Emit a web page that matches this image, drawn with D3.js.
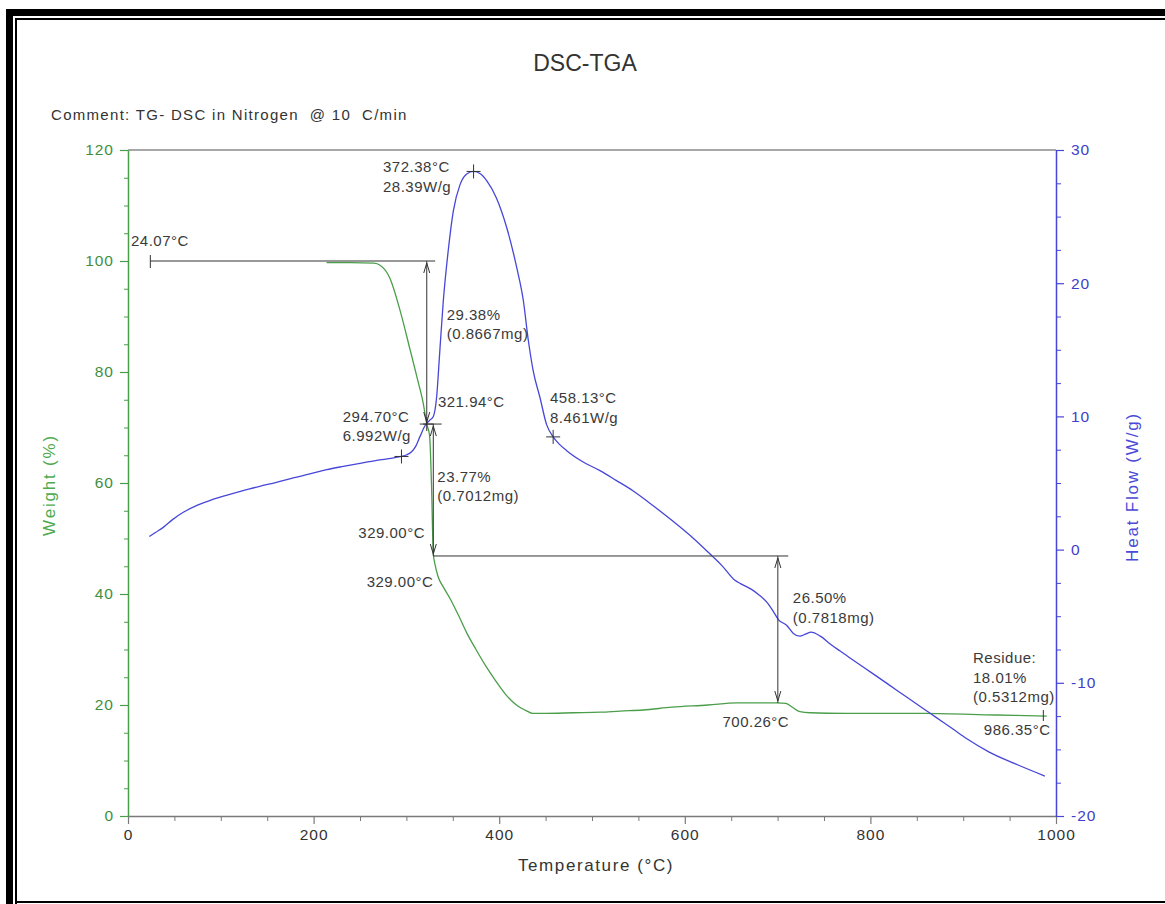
<!DOCTYPE html>
<html><head><meta charset="utf-8">
<script src="https://cdn.jsdelivr.net/npm/d3@7"></script>
<style>
html,body{margin:0;padding:0;background:#fff;}
svg{display:block;}
text{font-family:"Liberation Sans",Arial,sans-serif;}
</style></head><body>
<svg id="c" width="1165" height="904"></svg>
<script>
// ---------- DATA ----------
const tgaTemp   = [214,240,265,272,282,293,304,313,318,321.94,325,327,329,331,334,340,347,356,365,375,386,396,406,415,423,430,436,450,480,509,530,555,586,625,656,680,700,709,716,724,735,773,858,935,990];
const tgaWeight = [99.7,99.7,99.6,99.2,97.0,91.2,84.0,78.0,74.5,70.62,68.5,60.0,47.3,45.2,43.2,41.2,39.2,36.2,33.0,30.0,26.9,24.4,22.1,20.5,19.5,18.9,18.5,18.5,18.6,18.7,18.9,19.1,19.6,20.0,20.4,20.4,20.4,20.3,19.6,18.8,18.6,18.5,18.5,18.2,18.0];

const dscTemp = [23,30,38,48,59.6,72,88,105,124,142,160,178,196,214,232,250,268,285,294.7,300,305.6,310,314.7,320,325,329,332.5,336,339.8,345,350.5,357.8,365,372.38,380,386.5,397,408,418.8,426,431.4,436.7,444,451,458.13,465,472.7,490,508.6,526,544.5,562,586,610,629,640,654,660,671,680,689,695,700.8,710,717,724,730,736,746,757,767,780,803,819,839,858,870,889,904,928,955,988];
const dscFlow = [0.98,1.3,1.67,2.25,2.8,3.25,3.68,4.05,4.43,4.75,5.05,5.38,5.68,6.0,6.25,6.48,6.7,6.87,6.99,7.1,7.35,7.75,8.5,9.3,9.7,10.0,11.4,14.9,18.7,22.4,25.4,27.4,28.2,28.39,28.2,27.7,26.4,24.2,21.2,18.7,15.7,13.4,11.4,9.4,8.461,7.9,7.43,6.6,5.93,5.2,4.4,3.5,2.2,0.8,-0.45,-1.2,-2.3,-2.55,-2.95,-3.4,-4.0,-4.6,-5.25,-5.7,-6.3,-6.5,-6.35,-6.2,-6.5,-7.1,-7.6,-8.23,-9.33,-10.1,-11.07,-11.98,-12.56,-13.47,-14.2,-15.2,-16.05,-17.0];

const tempTicks   = [0,200,400,600,800,1000];
const tempMinor   = [50,100,150,250,300,350,450,500,550,650,700,750,850,900,950];
const weightTicks = [0,20,40,60,80,100,120];
const weightMinor = [5,10,15,25,30,35,45,50,55,65,70,75,85,90,95,105,110,115];
const flowTicks   = [-20,-10,0,10,20,30];
const flowMinor   = [-17.5,-15,-12.5,-7.5,-5,-2.5,2.5,5,7.5,12.5,15,17.5,22.5,25,27.5];

// DSC peak / onset markers (on heat-flow axis)
const dscMarkTemp = [372.38, 294.70, 458.13];
const dscMarkFlow = [28.39, 6.992, 8.461];
// TGA marker
const tgaMarkTemp = [321.94];
const tgaMarkWeight = [70.62];

// weight-loss steps
const stepTemp   = [321.94, 329.00, 700.26];
const stepTop    = [100, 70.62, 46.85];
const stepBottom = [70.62, 46.85, 20.35];
// reference levels for the steps
const refWeight = [100, 70.62, 46.85];
const refStart  = [24.07, 318, 329];
const refEnd    = [331, 338, 711.5];
const startTemp = 24.07;
const residueTemp = 986.35;
const residueWeight = 18.01;

// annotation texts, anchored in data units (temperature, weight %)
const labelLines = [
  ["372.38°C","28.39W/g"],
  ["24.07°C"],
  ["29.38%","(0.8667mg)"],
  ["321.94°C"],
  ["294.70°C","6.992W/g"],
  ["458.13°C","8.461W/g"],
  ["23.77%","(0.7012mg)"],
  ["329.00°C"],
  ["329.00°C"],
  ["26.50%","(0.7818mg)"],
  ["700.26°C"],
  ["Residue:","18.01%","(0.5312mg)"],
  ["986.35°C"]
];
const labelTemp   = [274.8, 3.2, 343.4, 334.0, 231.4, 454.7, 333.3, 248.2, 257.2, 716.4, 640.6, 910.6, 922.2];
const labelWeight = [116.0, 102.7, 89.4, 73.7, 71.0, 74.4, 60.2, 50.1, 41.3, 38.3, 16.1, 27.5, 14.6];

const titleText = "DSC-TGA";
const commentText = "Comment: TG- DSC in Nitrogen  @ 10  C/min";
const xTitle = "Temperature (°C)";
const yLTitle = "Weight (%)";
const yRTitle = "Heat Flow (W/g)";

// ---------- DRAW ----------
const svg = d3.select("#c");
const L = 128, R = 1056, T = 150, B = 816;
const x  = d3.scaleLinear().domain([0,1000]).range([L,R]);
const yL = d3.scaleLinear().domain([0,120]).range([B,T]);
const yR = d3.scaleLinear().domain([-20,30]).range([B,T]);

const green = "#4a9e4a", greenTxt = "#3f8f3f", blue = "#4646d8", blueTxt = "#4040c8", ink = "#3a3a3a";
const plain = d => String(d);

// frame
svg.append("rect").attr("x",6).attr("y",9).attr("width",1165).attr("height",7).attr("fill","#000");
svg.append("rect").attr("x",6).attr("y",9).attr("width",7).attr("height",900).attr("fill","#000");
svg.append("rect").attr("x",15).attr("y",18).attr("width",1165).attr("height",2).attr("fill","#000");
svg.append("rect").attr("x",15).attr("y",18).attr("width",2).attr("height",890).attr("fill","#000");
svg.append("rect").attr("x",15).attr("y",901).attr("width",1165).attr("height",2).attr("fill","#000");

// title & comment
svg.append("text").attr("x",585).attr("y",71).attr("text-anchor","middle")
  .attr("font-size",23).attr("fill","#333").text(titleText);
svg.append("text").attr("x",51).attr("y",120).attr("font-size",15)
  .attr("letter-spacing",1.3).attr("fill","#333").style("white-space","pre").text(commentText);

// top border
svg.append("line").attr("x1",x(0)).attr("x2",x(1000)).attr("y1",yL(120)).attr("y2",yL(120))
  .attr("stroke","#8a8a8a").attr("stroke-width",1.5);

function styleAxis(g, col, txtCol){
  g.select(".domain").attr("stroke",col).attr("stroke-width",1.5);
  g.selectAll(".tick line").attr("stroke",col).attr("stroke-width",1.2);
  g.selectAll(".tick text").attr("fill",txtCol).attr("font-size",15.5).attr("letter-spacing",1)
    .attr("font-family","Liberation Sans, Arial, sans-serif");
}
// bottom axis
const gx = svg.append("g").attr("transform",`translate(0,${B})`)
  .call(d3.axisBottom(x).tickValues(tempTicks).tickSize(8).tickSizeOuter(0).tickPadding(5).tickFormat(plain));
styleAxis(gx,"#7a7a7a","#333");
const gxm = svg.append("g").attr("transform",`translate(0,${B})`)
  .call(d3.axisBottom(x).tickValues(tempMinor).tickSize(5).tickFormat(""));
gxm.select(".domain").remove(); gxm.selectAll(".tick line").attr("stroke","#7a7a7a");

// left axis
const gl = svg.append("g").attr("transform",`translate(${L},0)`)
  .call(d3.axisLeft(yL).tickValues(weightTicks).tickSize(8).tickSizeOuter(0).tickPadding(6).tickFormat(plain));
styleAxis(gl,green,greenTxt);
const glm = svg.append("g").attr("transform",`translate(${L},0)`)
  .call(d3.axisLeft(yL).tickValues(weightMinor).tickSize(4).tickFormat(""));
glm.select(".domain").remove(); glm.selectAll(".tick line").attr("stroke",green);

// right axis
const gr = svg.append("g").attr("transform",`translate(${R},0)`)
  .call(d3.axisRight(yR).tickValues(flowTicks).tickSize(8).tickSizeOuter(0).tickPadding(7).tickFormat(plain));
styleAxis(gr,blue,blueTxt);
const grm = svg.append("g").attr("transform",`translate(${R},0)`)
  .call(d3.axisRight(yR).tickValues(flowMinor).tickSize(5).tickFormat(""));
grm.select(".domain").remove(); grm.selectAll(".tick line").attr("stroke",blue);

// axis titles
svg.append("text").attr("x",596).attr("y",871).attr("text-anchor","middle")
  .attr("font-size",17).attr("letter-spacing",1.6).attr("fill","#333").text(xTitle);
svg.append("text").attr("transform","translate(55,485) rotate(-90)").attr("text-anchor","middle")
  .attr("font-size",17).attr("letter-spacing",1.8).attr("fill","#50aa50").text(yLTitle);
svg.append("text").attr("transform","translate(1138,487) rotate(-90)").attr("text-anchor","middle")
  .attr("font-size",17).attr("letter-spacing",1.8).attr("fill","#4a4ad8").text(yRTitle);

// curves
const tga = tgaTemp.map((t,i)=>[t,tgaWeight[i]]);
const dsc = dscTemp.map((t,i)=>[t,dscFlow[i]]);
svg.append("path").datum(tga).attr("fill","none").attr("stroke",green).attr("stroke-width",1.3)
  .attr("d",d3.line().x(d=>x(d[0])).y(d=>yL(d[1])).curve(d3.curveMonotoneX));
svg.append("path").datum(dsc).attr("fill","none").attr("stroke",blue).attr("stroke-width",1.3)
  .attr("d",d3.line().x(d=>x(d[0])).y(d=>yR(d[1])).curve(d3.curveMonotoneX));

// annotations
const ann = svg.append("g").attr("stroke","#333").attr("stroke-width",1).attr("fill","none");
refWeight.forEach((w,i)=>{
  ann.append("line").attr("x1",x(refStart[i])).attr("x2",x(refEnd[i])).attr("y1",yL(w)).attr("y2",yL(w));
});
// start tick
ann.append("line").attr("x1",x(startTemp)).attr("x2",x(startTemp)).attr("y1",yL(100)-6).attr("y2",yL(100)+7);
// residue tick
ann.append("line").attr("x1",x(residueTemp)).attr("x2",x(residueTemp)).attr("y1",yL(residueWeight)-6).attr("y2",yL(residueWeight)+5);
// step arrows
stepTemp.forEach((t,i)=>{
  const xx = x(t), y1 = yL(stepTop[i]), y2 = yL(stepBottom[i]);
  ann.append("line").attr("x1",xx).attr("x2",xx).attr("y1",y1).attr("y2",y2);
  ann.append("path").attr("d",`M${xx-3},${y1+12}L${xx},${y1+2}L${xx+3},${y1+12}`);
  ann.append("path").attr("d",`M${xx-3},${y2-12}L${xx},${y2-2}L${xx+3},${y2-12}`);
});
// crosses
function cross(px,py){
  ann.append("path").attr("d",`M${px-7},${py}H${px+7}M${px},${py-7}V${py+7}`);
}
dscMarkTemp.forEach((t,i)=>cross(x(t),yR(dscMarkFlow[i])));
tgaMarkTemp.forEach((t,i)=>cross(x(t),yL(tgaMarkWeight[i])));

// label texts
labelLines.forEach((lines,i)=>{
  const tx = svg.append("text").attr("x",x(labelTemp[i])).attr("y",yL(labelWeight[i]))
    .attr("font-size",15).attr("letter-spacing",0.5).attr("fill",ink);
  lines.forEach((s,j)=>{
    tx.append("tspan").attr("x",x(labelTemp[i])).attr("dy",j===0?0:19.5).text(s);
  });
});
</script>
</body></html>
